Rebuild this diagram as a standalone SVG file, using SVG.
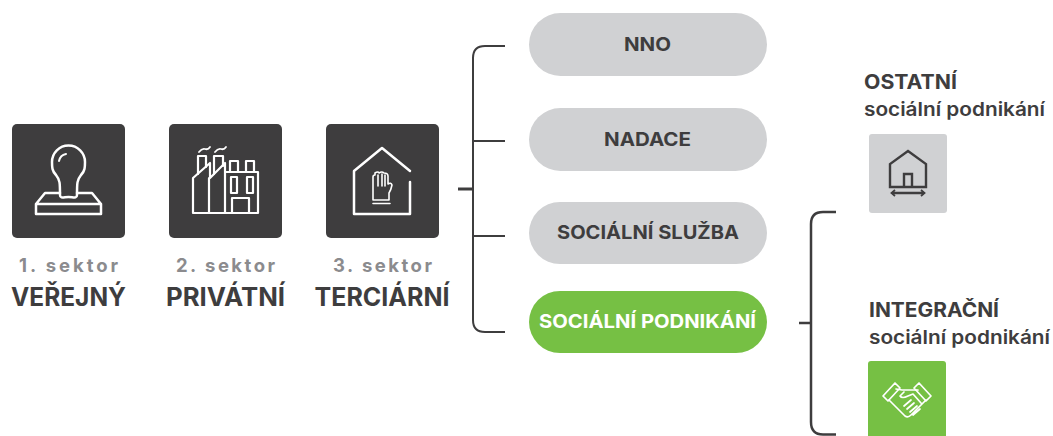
<svg xmlns="http://www.w3.org/2000/svg" width="1053" height="436" viewBox="0 0 1053 436">
<style>
text{font-family:Inter,"Liberation Sans",sans-serif;}
.sq{fill:#3e3d3e}
.ic{fill:none;stroke:#fff;stroke-width:2.5;stroke-linejoin:round;stroke-linecap:round}
.ic2{fill:none;stroke:#3e3d3e;stroke-width:2.4;stroke-linejoin:miter}
.sec{font-size:18.500px;font-weight:700;fill:#8b8b8e;text-anchor:middle}
.nm{font-size:25px;font-weight:700;fill:#3e3d3e;text-anchor:middle}
.pl{fill:#d0d1d3}
.pt{font-size:19px;font-weight:700;fill:#3e3d3e;text-anchor:middle}
.h{font-size:20px;font-weight:700;fill:#3e3d3e}
.s{font-size:19px;font-weight:600;fill:#3e3d3e}
.br{fill:none;stroke:#3e3d3e;stroke-width:2}
</style>
<g id="connectors">
<path class="br" d="M505 46H485Q473 46 473 58V320Q473 332 485 332H505M473 141H505M473 236H505"/>
<path class="br" d="M458 189H473" style="stroke-width:3"/>
<path class="br" d="M836 212H823Q811 212 811 224V422Q811 434.500 823 434.500H836M799 323H811" style="stroke-width:2.500"/>
</g>
<g id="sektor1">
<rect class="sq" x="12" y="124" width="113" height="114" rx="5"/>
<path class="ic" d="M60 195C60 183 60 180 56 175C52 171 52 167 52 162A16.500 16.500 0 0 1 85 162C85 167 85 171 81 175C77 180 77 183 77 195C77 199 73 197 68.500 197C64 197 60 199 60 195Z"/>
<path class="ic" d="M59 161A9 9 0 0 1 66 154" style="stroke-width:2"/>
<path class="ic" d="M60 193H45L36 204V214H101V204L92 193H77M36 204H101"/>
<text class="sec" x="68.500" y="272" textLength="99" lengthAdjust="spacing">1. sektor</text>
<text class="nm" x="68.500" y="306" textLength="115" lengthAdjust="spacingAndGlyphs">VEŘEJNÝ</text>
</g>
<g id="sektor2">
<rect class="sq" x="169" y="124" width="113" height="114" rx="5"/>
<path class="ic" d="M193 213V178L210 163V178L225 163V213M193 213H258V172H225M209 213V178M225 178V213" style="stroke-width:2.200"/>
<path class="ic" d="M198 174V156H206V167M214 174V156H223V166M230 171V161H238V171M246 171V161H254V171M231 193V177H237V193ZM247 193V177H253V193ZM232 213V198H249V213Z" style="stroke-width:2.200"/>
<path class="ic" d="M199 152Q202 148 205 149T210 147M215 152Q218 148 221 149T226 147" style="stroke-width:1.800"/>
<text class="sec" x="225.500" y="272" textLength="99" lengthAdjust="spacing">2. sektor</text>
<text class="nm" x="225.500" y="306" textLength="119" lengthAdjust="spacingAndGlyphs">PRIVÁTNÍ</text>
</g>
<g id="sektor3">
<rect class="sq" x="326" y="124" width="113" height="114" rx="5"/>
<path class="ic" d="M410 171L382 148L354 171V214H410V182"/>
<path class="ic" d="M373 200V177Q373 175 375 175V173Q378 171 379 173Q382 171 384 173Q388 173 388 176V184Q391 182 392 185Q391 190 389 193V200ZM373 203.500H390M378 175V186M382 174V186M385 175V186" style="stroke-width:1.600"/>
<text class="sec" x="382.500" y="272" textLength="99" lengthAdjust="spacing">3. sektor</text>
<text class="nm" x="382" y="306" textLength="135" lengthAdjust="spacingAndGlyphs">TERCIÁRNÍ</text>
</g>
<g id="nno"><rect class="pl" x="529" y="13" width="238" height="63" rx="31.500"/><text class="pt" x="647.500" y="51" textLength="47" lengthAdjust="spacingAndGlyphs">NNO</text></g>
<g id="nadace"><rect class="pl" x="529" y="108" width="238" height="63" rx="31.500"/><text class="pt" x="647.500" y="146" textLength="87" lengthAdjust="spacingAndGlyphs">NADACE</text></g>
<g id="sluzba"><rect class="pl" x="529" y="202" width="238" height="62" rx="31"/><text class="pt" x="648" y="239" textLength="182" lengthAdjust="spacingAndGlyphs">SOCIÁLNÍ SLUŽBA</text></g>
<g id="podnikani"><rect x="529" y="291" width="238" height="62" rx="31" fill="#76c044"/><text class="pt" x="647.500" y="328" textLength="217" lengthAdjust="spacingAndGlyphs" style="fill:#fff">SOCIÁLNÍ PODNIKÁNÍ</text></g>
<g id="ostatni">
<text class="h" x="864" y="89" textLength="93" lengthAdjust="spacingAndGlyphs">OSTATNÍ</text>
<text class="s" x="864" y="116" textLength="181" lengthAdjust="spacingAndGlyphs">sociální podnikání</text>
<rect x="869" y="134" width="78" height="79" rx="3" fill="#d0d1d3"/>
<path class="ic2" d="M890 187V164L908 151L926 164V187ZM904 187V174H912V187M892 193H924"/>
<path class="ic2" d="M895 190L891.500 193L895 196M921 190L924.500 193L921 196" style="stroke-width:1.800"/>
</g>
<g id="integracni">
<text class="h" x="869" y="317" textLength="130" lengthAdjust="spacingAndGlyphs">INTEGRAČNÍ</text>
<text class="s" x="869" y="344" textLength="181" lengthAdjust="spacingAndGlyphs">sociální podnikání</text>
<path d="M868 436V364Q868 361 871 361H943Q946 361 946 364V436Z" fill="#76c044"/>
<path class="ic" style="stroke-width:1.700" d="M883 396L895 383L900 388L888 401ZM931 396L919 383L914 388L926 401Z"/>
<path class="ic" style="stroke-width:1.700" d="M896 389L902 390H918M889 400L905 416Q908 418 911 415L921 405L926 400M904 392L900 396Q902 399 908 396L913 394L921 403M904 406L911 400M907 409L914 403M910 412L917 406M913 415L920 409"/>
</g>
</svg>
